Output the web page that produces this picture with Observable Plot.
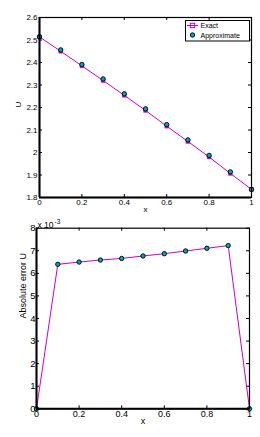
<!DOCTYPE html>
<html><head><meta charset="utf-8">
<script src="https://cdn.jsdelivr.net/npm/d3@7"></script>
<script src="https://cdn.jsdelivr.net/npm/@observablehq/plot@0.6"></script>
<style>
body{margin:0;background:#fff;}
#c svg{display:block;}
</style></head><body><div id="c"></div>
<script>
const xs = [0,0.1,0.2,0.3,0.4,0.5,0.6,0.7,0.8,0.9,1];
const approxU = [2.514,2.456,2.391,2.327,2.261,2.194,2.124,2.056,1.987,1.914,1.836];
const exactU  = [2.514,2.450,2.385,2.320,2.254,2.187,2.117,2.049,1.980,1.907,1.836];
const errorU  = [0,6.40,6.50,6.59,6.66,6.77,6.87,6.99,7.11,7.23,0]; // ×10^-3
const xTicks = [0,0.2,0.4,0.6,0.8,1];
const yTicksTop = [1.8,1.9,2,2.1,2.2,2.3,2.4,2.5,2.6];
const yTicksBot = [0,1,2,3,4,5,6,7,8];
const legendItems = ["Exact","Approximate"];

const MAG = "#cc00cc", TEAL = "#00a8a8";
const FONT = "Liberation Sans, Arial, sans-serif";

const topData = xs.map((x,i)=>({x, a: approxU[i], e: exactU[i]}));
const botData = xs.map((x,i)=>({x, err: errorU[i]}));

// ---------- Top chart ----------
const W = 260;
const H1 = 215, mt1 = 17, mb1 = 18, ml1 = 39, mr1 = 9;
const fh1 = H1 - mt1 - mb1, fw1 = W - ml1 - mr1;
const c1 = Plot.plot({
  width: W, height: H1,
  marginTop: mt1, marginBottom: mb1, marginLeft: ml1, marginRight: mr1,
  style: {fontFamily: FONT, fontSize: "8px", color: "black", background: "white", overflow: "visible"},
  x: {domain: [0,1]},
  y: {domain: [1.8,2.6]},
  marks: [
    Plot.axisX(xTicks, {tickSize: 0, tickPadding: 2, fontSize: 8, label: null, tickFormat: d=>String(d)}),
    Plot.axisY(yTicksTop, {tickSize: 0, tickPadding: 2, fontSize: 8, label: null, tickFormat: d=>String(d)}),
    Plot.tickX(xTicks, {x: d=>d, stroke:"black", insetTop: fh1-3}),
    Plot.tickX(xTicks, {x: d=>d, stroke:"black", insetBottom: fh1-3}),
    Plot.tickY(yTicksTop, {y: d=>d, stroke:"black", insetRight: fw1-3}),
    Plot.tickY(yTicksTop, {y: d=>d, stroke:"black", insetLeft: fw1-3}),
    Plot.line(topData, {x:"x", y:"e", stroke: MAG, strokeWidth: 1}),
    Plot.dot(topData, {x:"x", y:"e", symbol:"square", r: 2.2, fill: MAG, stroke: MAG, strokeWidth: 0.5}),
    Plot.dot(topData, {x:"x", y:"a", r: 2.2, fill: TEAL, stroke: "black", strokeWidth: 0.9}),
    Plot.frame({stroke:"black", strokeWidth: 1.2}),
    Plot.ruleX([0], {stroke:"black", strokeWidth: 2}),
    Plot.ruleY([1.8], {stroke:"black", strokeWidth: 2}),
    Plot.text(["x"], {frameAnchor:"bottom", dy: 14, fontSize: 8}),
    Plot.text(["U"], {frameAnchor:"left", dx: -21, rotate: -90, fontSize: 8})
  ]
});

// legend (pixel placement)
{
  const svg = d3.select(c1);
  const g = svg.append("g").attr("font-family", FONT).attr("font-size", 7).attr("text-anchor","start");
  g.append("rect").attr("x",185.5).attr("y",20.5).attr("width",64).attr("height",20.5)
    .attr("fill","white").attr("stroke","black").attr("stroke-width",1);
  g.append("line").attr("x1",187).attr("x2",198).attr("y1",25.5).attr("y2",25.5).attr("stroke",MAG).attr("stroke-width",1);
  g.append("rect").attr("x",190.3).attr("y",23.3).attr("width",4.4).attr("height",4.4).attr("fill","none").attr("stroke",MAG).attr("stroke-width",1);
  g.append("circle").attr("cx",192.5).attr("cy",35).attr("r",2.2).attr("fill",TEAL).attr("stroke","black").attr("stroke-width",0.9);
  g.append("text").attr("x",200.5).attr("y",28).attr("text-anchor","start").text(legendItems[0]);
  g.append("text").attr("x",200.5).attr("y",37.5).attr("text-anchor","start").text(legendItems[1]);
}

// ---------- Bottom chart ----------
const H2 = 222, mt2 = 12.7, mb2 = 28.7, ml2 = 36, mr2 = 11;
const fh2 = H2 - mt2 - mb2, fw2 = W - ml2 - mr2;
const c2 = Plot.plot({
  width: W, height: H2,
  marginTop: mt2, marginBottom: mb2, marginLeft: ml2, marginRight: mr2,
  style: {fontFamily: FONT, fontSize: "9px", color: "black", background: "white", overflow: "visible"},
  x: {domain: [0,1]},
  y: {domain: [0,8]},
  marks: [
    Plot.axisX(xTicks, {tickSize: 0, tickPadding: 1.5, fontSize: 9, label: null, tickFormat: d=>String(d)}),
    Plot.axisY(yTicksBot, {tickSize: 0, tickPadding: 1, fontSize: 9.5, label: null, tickFormat: d=>String(d)}),
    Plot.tickX(xTicks, {x: d=>d, stroke:"black", insetTop: fh2-3}),
    Plot.tickX(xTicks, {x: d=>d, stroke:"black", insetBottom: fh2-3}),
    Plot.tickY(yTicksBot, {y: d=>d, stroke:"black", insetRight: fw2-3}),
    Plot.tickY(yTicksBot, {y: d=>d, stroke:"black", insetLeft: fw2-3}),
    Plot.line(botData, {x:"x", y:"err", stroke: MAG, strokeWidth: 1}),
    Plot.dot(botData, {x:"x", y:"err", r: 2.2, fill: TEAL, stroke: "black", strokeWidth: 0.9}),
    Plot.frame({stroke:"black", strokeWidth: 1.2}),
    Plot.ruleX([0], {stroke:"black", strokeWidth: 2}),
    Plot.ruleY([0], {stroke:"black", strokeWidth: 2}),
    Plot.text(["x"], {frameAnchor:"bottom", dy: 15, fontSize: 9}),
    Plot.text(["Absolute error U"], {frameAnchor:"left", dx: -13, rotate: -90, fontSize: 9}),
    Plot.text(["x 10"], {frameAnchor:"top-left", textAnchor:"start", dx: 1, dy: -6, fontSize: 8.5}),
    Plot.text(["-3"], {frameAnchor:"top-left", textAnchor:"start", dx: 18, dy: -9, fontSize: 6.5})
  ]
});

document.getElementById("c").append(c1, c2);
</script></body></html>
